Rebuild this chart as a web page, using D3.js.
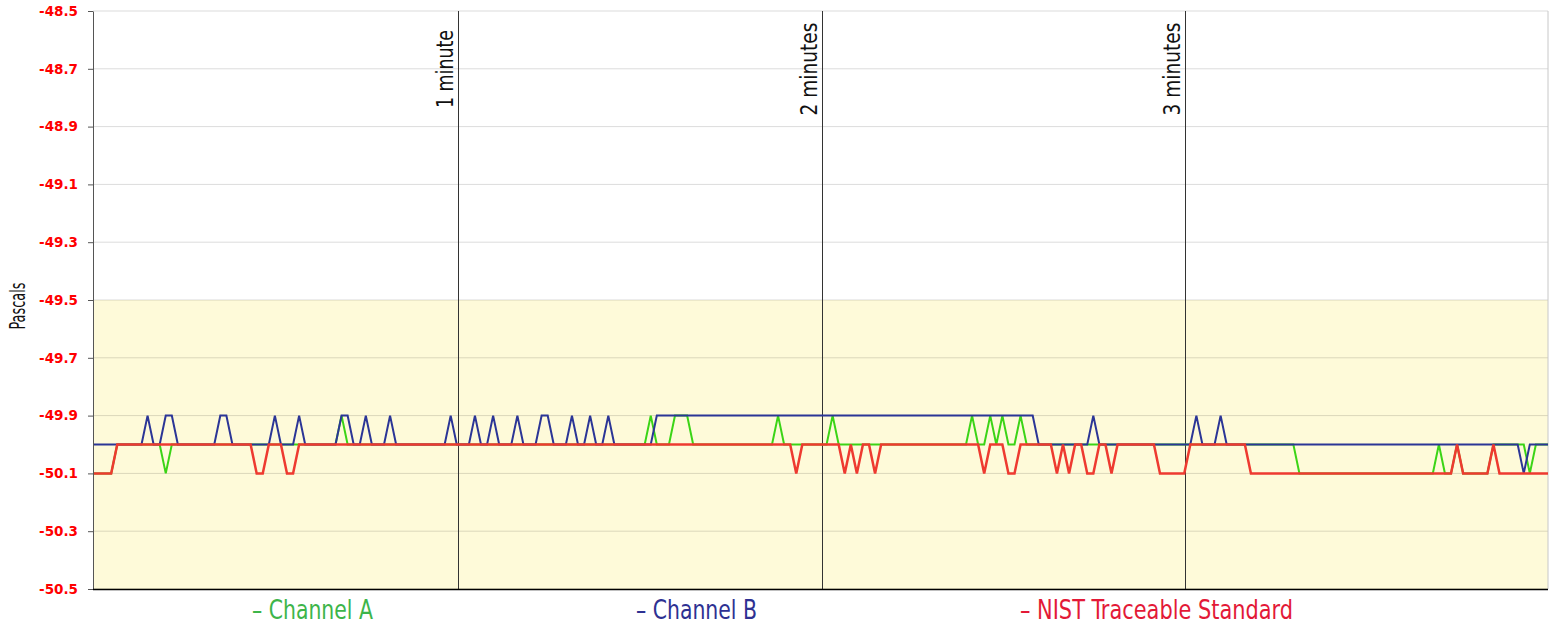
<!DOCTYPE html>
<html>
<head>
<meta charset="utf-8">
<script src="https://cdn.jsdelivr.net/npm/d3@7"></script>
<style>
  body { margin: 0; background: #fff; }
  .narrow { font-family: "Liberation Sans Narrow", "DejaVu Sans Condensed", "Arial Narrow", sans-serif; }
</style>
</head>
<body>
<div id="chart"></div>
<script>
// y axis ticks (Pascals)
var yTicks = [-48.5, -48.7, -48.9, -49.1, -49.3, -49.5, -49.7, -49.9, -50.1, -50.3, -50.5];
// minute markers, seconds
var minuteMarks = [60, 120, 180];
var minuteLabels = ["1 minute", "2 minutes", "3 minutes"];
// one reading per second, 0..240 s
var channelA = [
  -50.1,-50.1,-50.1,-50.1,-50,-50,-50,-50,-50,-50,
  -50,-50,-50.1,-50,-50,-50,-50,-50,-50,-50,
  -50,-50,-50,-50,-50,-50,-50,-50,-50,-50,
  -50,-50,-50,-50,-50,-50,-50,-50,-50,-50,
  -50,-49.9,-50,-50,-50,-50,-50,-50,-50,-50,
  -50,-50,-50,-50,-50,-50,-50,-50,-50,-50,
  -50,-50,-50,-50,-50,-50,-50,-50,-50,-50,
  -50,-50,-50,-50,-50,-50,-50,-50,-50,-50,
  -50,-50,-50,-50,-50,-50,-50,-50,-50,-50,
  -50,-50,-49.9,-50,-50,-50,-49.9,-49.9,-49.9,-50,
  -50,-50,-50,-50,-50,-50,-50,-50,-50,-50,
  -50,-50,-50,-49.9,-50,-50,-50,-50,-50,-50,
  -50,-50,-49.9,-50,-50,-50,-50,-50,-50,-50,
  -50,-50,-50,-50,-50,-50,-50,-50,-50,-50,
  -50,-50,-50,-50,-50,-49.9,-50,-50,-49.9,-50,
  -49.9,-50,-50,-49.9,-50,-50,-50,-50,-50,-50,
  -50,-50,-50,-50,-50,-50,-50,-50,-50,-50,
  -50,-50,-50,-50,-50,-50,-50,-50,-50,-50,
  -50,-50,-50,-50,-50,-50,-50,-50,-50,-50,
  -50,-50,-50,-50,-50,-50,-50,-50,-50,-50.1,
  -50.1,-50.1,-50.1,-50.1,-50.1,-50.1,-50.1,-50.1,-50.1,-50.1,
  -50.1,-50.1,-50.1,-50.1,-50.1,-50.1,-50.1,-50.1,-50.1,-50.1,
  -50.1,-50.1,-50,-50.1,-50.1,-50,-50.1,-50.1,-50.1,-50.1,
  -50.1,-50,-50,-50,-50,-50,-50,-50.1,-50,-50,
  -50
];
var channelB = [
  -50,-50,-50,-50,-50,-50,-50,-50,-50,-49.9,
  -50,-50,-49.9,-49.9,-50,-50,-50,-50,-50,-50,
  -50,-49.9,-49.9,-50,-50,-50,-50,-50,-50,-50,
  -49.9,-50,-50,-50,-49.9,-50,-50,-50,-50,-50,
  -50,-49.9,-49.9,-50,-50,-49.9,-50,-50,-50,-49.9,
  -50,-50,-50,-50,-50,-50,-50,-50,-50,-49.9,
  -50,-50,-50,-49.9,-50,-50,-49.9,-50,-50,-50,
  -49.9,-50,-50,-50,-49.9,-49.9,-50,-50,-50,-49.9,
  -50,-50,-49.9,-50,-50,-49.9,-50,-50,-50,-50,
  -50,-50,-50,-49.9,-49.9,-49.9,-49.9,-49.9,-49.9,-49.9,
  -49.9,-49.9,-49.9,-49.9,-49.9,-49.9,-49.9,-49.9,-49.9,-49.9,
  -49.9,-49.9,-49.9,-49.9,-49.9,-49.9,-49.9,-49.9,-49.9,-49.9,
  -49.9,-49.9,-49.9,-49.9,-49.9,-49.9,-49.9,-49.9,-49.9,-49.9,
  -49.9,-49.9,-49.9,-49.9,-49.9,-49.9,-49.9,-49.9,-49.9,-49.9,
  -49.9,-49.9,-49.9,-49.9,-49.9,-49.9,-49.9,-49.9,-49.9,-49.9,
  -49.9,-49.9,-49.9,-49.9,-49.9,-49.9,-50,-50,-50,-50,
  -50,-50,-50,-50,-50,-49.9,-50,-50,-50,-50,
  -50,-50,-50,-50,-50,-50,-50,-50,-50,-50,
  -50,-50,-49.9,-50,-50,-50,-49.9,-50,-50,-50,
  -50,-50,-50,-50,-50,-50,-50,-50,-50,-50,
  -50,-50,-50,-50,-50,-50,-50,-50,-50,-50,
  -50,-50,-50,-50,-50,-50,-50,-50,-50,-50,
  -50,-50,-50,-50,-50,-50,-50,-50,-50,-50,
  -50,-50,-50,-50,-50,-50,-50.1,-50,-50,-50,
  -50
];
var nistStandard = [
  -50.1,-50.1,-50.1,-50.1,-50,-50,-50,-50,-50,-50,
  -50,-50,-50,-50,-50,-50,-50,-50,-50,-50,
  -50,-50,-50,-50,-50,-50,-50,-50.1,-50.1,-50,
  -50,-50,-50.1,-50.1,-50,-50,-50,-50,-50,-50,
  -50,-50,-50,-50,-50,-50,-50,-50,-50,-50,
  -50,-50,-50,-50,-50,-50,-50,-50,-50,-50,
  -50,-50,-50,-50,-50,-50,-50,-50,-50,-50,
  -50,-50,-50,-50,-50,-50,-50,-50,-50,-50,
  -50,-50,-50,-50,-50,-50,-50,-50,-50,-50,
  -50,-50,-50,-50,-50,-50,-50,-50,-50,-50,
  -50,-50,-50,-50,-50,-50,-50,-50,-50,-50,
  -50,-50,-50,-50,-50,-50,-50.1,-50,-50,-50,
  -50,-50,-50,-50,-50.1,-50,-50.1,-50,-50,-50.1,
  -50,-50,-50,-50,-50,-50,-50,-50,-50,-50,
  -50,-50,-50,-50,-50,-50,-50,-50.1,-50,-50,
  -50,-50.1,-50.1,-50,-50,-50,-50,-50,-50,-50.1,
  -50,-50.1,-50,-50,-50.1,-50.1,-50,-50,-50.1,-50,
  -50,-50,-50,-50,-50,-50,-50.1,-50.1,-50.1,-50.1,
  -50.1,-50,-50,-50,-50,-50,-50,-50,-50,-50,
  -50,-50.1,-50.1,-50.1,-50.1,-50.1,-50.1,-50.1,-50.1,-50.1,
  -50.1,-50.1,-50.1,-50.1,-50.1,-50.1,-50.1,-50.1,-50.1,-50.1,
  -50.1,-50.1,-50.1,-50.1,-50.1,-50.1,-50.1,-50.1,-50.1,-50.1,
  -50.1,-50.1,-50.1,-50.1,-50.1,-50,-50.1,-50.1,-50.1,-50.1,
  -50.1,-50,-50.1,-50.1,-50.1,-50.1,-50.1,-50.1,-50.1,-50.1,
  -50.1
];
var seriesNames = ["Channel A", "Channel B", "NIST Traceable Standard"];
var lineColors = ["#3bd416", "#2b3596", "#ee3a30"];
var legendColors = ["#3db54a", "#2e3192", "#e31937"];

drawChart("#chart");

function drawChart(elm) {
  var W = 1556, H = 635;
  var margin = { top: 11, right: 8, bottom: 46, left: 93 },
    width = W - margin.left - margin.right,
    height = H - margin.top - margin.bottom;

  var svg = d3.select(elm)
    .append("svg")
    .attr("width", W)
    .attr("height", H)
    .append("g")
    .attr("transform", `translate(${margin.left},${margin.top})`);

  var x = d3.scaleLinear().domain([0, 240]).range([0, width]);
  var y = d3.scaleLinear().domain([-50.5, -48.5]).range([height, 0]);

  // yellow band -49.5 .. -50.5
  svg.append("rect")
    .attr("x", 0)
    .attr("y", y(-49.5))
    .attr("width", width)
    .attr("height", y(-50.5) - y(-49.5))
    .attr("fill", "#fefad9");

  // horizontal gridlines
  svg.append("g")
    .selectAll("line")
    .data(yTicks)
    .join("line")
    .attr("x1", 0)
    .attr("x2", width)
    .attr("y1", d => y(d))
    .attr("y2", d => y(d))
    .attr("stroke", "rgba(0,0,0,0.14)")
    .attr("stroke-width", 1);

  // right border
  svg.append("line")
    .attr("x1", width).attr("x2", width)
    .attr("y1", 0).attr("y2", height)
    .attr("stroke", "#c8c8c8");

  // minute markers
  var labelLen = [78, 93, 93];
  var marks = svg.append("g");
  marks.selectAll("line")
    .data(minuteMarks)
    .join("line")
    .attr("x1", d => Math.round(x(d)) + 1.5)
    .attr("x2", d => Math.round(x(d)) + 1.5)
    .attr("y1", 0)
    .attr("y2", height)
    .attr("stroke", "#333")
    .attr("stroke-width", 1);
  marks.selectAll("text")
    .data(minuteMarks)
    .join("text")
    .attr("class", "narrow")
    .attr("transform", d => `translate(${Math.round(x(d)) - 4},${58}) rotate(-90)`)
    .attr("text-anchor", "middle")
    .attr("font-size", 23)
    .attr("textLength", (d, i) => labelLen[i])
    .attr("lengthAdjust", "spacingAndGlyphs")
    .attr("fill", "#111")
    .text((d, i) => minuteLabels[i]);

  // lines, green under blue under red
  var lineWidths = [2, 2, 2.5];
  var line = d3.line()
    .x((d, i) => x(i))
    .y(d => y(d));
  var allSeries = [channelA, channelB, nistStandard];
  svg.append("g")
    .selectAll("path")
    .data(allSeries)
    .join("path")
    .attr("fill", "none")
    .attr("stroke", (d, i) => lineColors[i])
    .attr("stroke-width", (d, i) => lineWidths[i])
    .attr("stroke-linejoin", "miter")
    .attr("d", d => line(d));

  // y axis
  var yAxis = svg.append("g")
    .call(d3.axisLeft(y).tickValues(yTicks).tickSize(5).tickSizeOuter(0).tickFormat(d => d.toFixed(1)));
  yAxis.select(".domain").attr("stroke", "#555");
  yAxis.selectAll(".tick line").attr("stroke", "#555");
  yAxis.selectAll(".tick text")
    .attr("x", -15)
    .attr("fill", "#ff0000")
    .attr("font-family", "DejaVu Sans, sans-serif")
    .attr("font-weight", "bold")
    .attr("font-size", 13.5);

  // bottom line
  svg.append("line")
    .attr("x1", 0).attr("x2", width)
    .attr("y1", height + 0.5).attr("y2", height + 0.5)
    .attr("stroke", "#000")
    .attr("stroke-width", 1.5);

  // y label
  svg.append("text")
    .attr("class", "narrow")
    .attr("transform", `translate(${-68},${y(-49.5) + 6}) rotate(-90)`)
    .attr("text-anchor", "middle")
    .attr("font-size", 22)
    .attr("textLength", 47)
    .attr("lengthAdjust", "spacingAndGlyphs")
    .attr("fill", "#111")
    .text("Pascals");

  // legend
  var legendX = [252, 636, 1020];
  var legendLen = [121, 121, 273];
  svg.append("g")
    .selectAll("text")
    .data(seriesNames)
    .join("text")
    .attr("class", "narrow")
    .attr("x", (d, i) => legendX[i] - margin.left)
    .attr("y", height + 30)
    .attr("font-size", 27)
    .attr("textLength", (d, i) => legendLen[i])
    .attr("lengthAdjust", "spacingAndGlyphs")
    .attr("fill", (d, i) => legendColors[i])
    .text(d => "\u2013 " + d);
}
</script>
</body>
</html>
